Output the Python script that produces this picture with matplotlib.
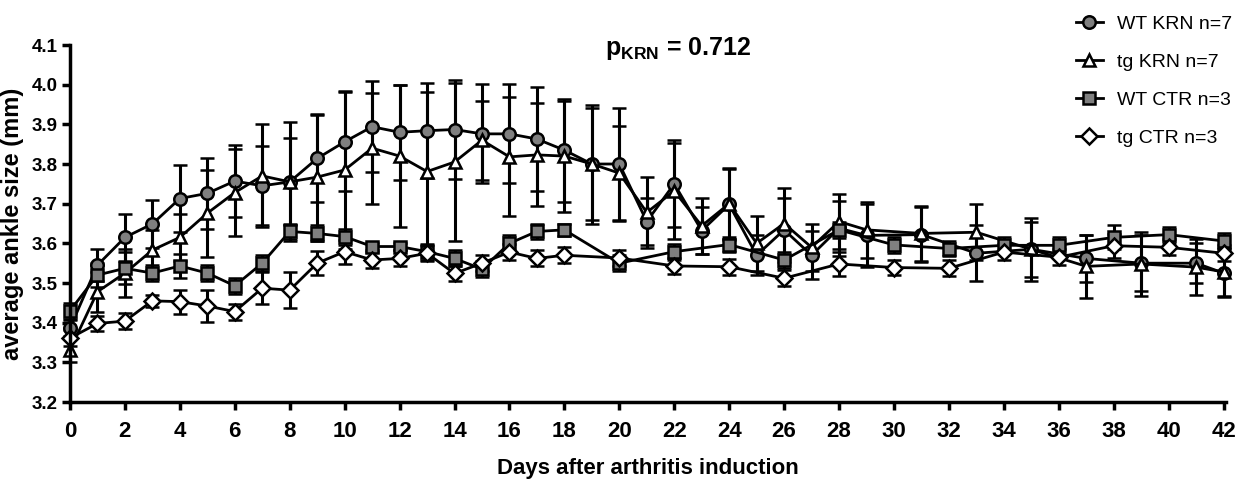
import matplotlib
matplotlib.use("Agg")
import matplotlib.pyplot as plt
from matplotlib.lines import Line2D

plt.rcParams['mathtext.fontset'] = 'custom'
plt.rcParams['mathtext.bf'] = 'Liberation Sans:bold'
plt.rcParams['mathtext.rm'] = 'Liberation Sans'

# ---------------- data ----------------
krn_days = list(range(0, 30)) + [31, 33, 35, 37, 39, 41, 42]
ctr_days = list(range(0, 19)) + [20, 22, 24, 26, 28, 30, 32, 34, 36, 38, 40, 42]

wt_krn = [3.386, 3.545, 3.615, 3.649, 3.713, 3.726, 3.757, 3.745, 3.755, 3.814,
          3.856, 3.894, 3.880, 3.884, 3.887, 3.876, 3.876, 3.863, 3.835, 3.800,
          3.800, 3.655, 3.750, 3.632, 3.698, 3.570, 3.634, 3.570, 3.638, 3.620,
          3.622, 3.575, 3.585, 3.562, 3.550, 3.550, 3.525]
wt_krn_err = [0.02, 0.04, 0.06, 0.06, 0.085, 0.09, 0.09, 0.10, 0.15, 0.11,
              0.125, 0.115, 0.12, 0.12, 0.125, 0.125, 0.125, 0.13, 0.13, 0.15,
              0.14, 0.06, 0.11, 0.06, 0.09, 0.05, 0.08, 0.06, 0.07, 0.08,
              0.07, 0.07, 0.07, 0.06, 0.07, 0.05, 0.06]

tg_krn = [3.331, 3.478, 3.525, 3.583, 3.615, 3.676, 3.728, 3.770, 3.755, 3.767,
          3.785, 3.840, 3.820, 3.781, 3.805, 3.860, 3.818, 3.823, 3.820, 3.800,
          3.777, 3.678, 3.732, 3.644, 3.700, 3.600, 3.650, 3.590, 3.655, 3.634,
          3.625, 3.628, 3.585, 3.542, 3.548, 3.540, 3.528]
tg_krn_err = [0.03, 0.05, 0.06, 0.05, 0.06, 0.11, 0.11, 0.13, 0.11, 0.16,
              0.20, 0.14, 0.18, 0.20, 0.20, 0.10, 0.15, 0.13, 0.14, 0.14,
              0.12, 0.09, 0.12, 0.07, 0.09, 0.07, 0.09, 0.06, 0.07, 0.07,
              0.07, 0.07, 0.08, 0.08, 0.08, 0.07, 0.06]

wt_ctr = [3.430, 3.520, 3.537, 3.525, 3.543, 3.525, 3.493, 3.550, 3.630, 3.625,
          3.617, 3.592, 3.592, 3.579, 3.562, 3.535, 3.600, 3.630, 3.634,
          3.550, 3.579, 3.597, 3.558, 3.634, 3.596, 3.587, 3.595, 3.595, 3.615,
          3.622, 3.606]
wt_ctr_err = [0.02, 0.03, 0.04, 0.02, 0.03, 0.02, 0.02, 0.02, 0.02, 0.02,
              0.02, 0.01, 0.01, 0.02, 0.02, 0.02, 0.02, 0.02, 0.015,
              0.02, 0.02, 0.02, 0.02, 0.02, 0.02, 0.02, 0.02, 0.02, 0.03,
              0.02, 0.02]

tg_ctr = [3.361, 3.398, 3.404, 3.455, 3.453, 3.442, 3.428, 3.487, 3.482, 3.550,
          3.579, 3.558, 3.562, 3.575, 3.524, 3.550, 3.578, 3.562, 3.570,
          3.563, 3.543, 3.541, 3.512, 3.548, 3.539, 3.537, 3.578, 3.565, 3.594,
          3.590, 3.575]
tg_ctr_err = [0.02, 0.02, 0.02, 0.015, 0.03, 0.04, 0.02, 0.04, 0.045, 0.03,
              0.03, 0.02, 0.02, 0.02, 0.02, 0.02, 0.02, 0.02, 0.02,
              0.02, 0.02, 0.02, 0.02, 0.03, 0.02, 0.02, 0.02, 0.02, 0.03,
              0.02, 0.02]

labels = ['WT KRN n=7', 'tg KRN n=7', 'WT CTR n=3', 'tg CTR n=3']
x_ticks = list(range(0, 43, 2))
y_ticks = [3.2, 3.3, 3.4, 3.5, 3.6, 3.7, 3.8, 3.9, 4.0, 4.1]
# ---------------------------------------

fig = plt.figure(figsize=(12.45, 4.84), dpi=100)
ax = fig.add_axes([0.0562, 0.1694, 0.9288, 0.7376])

series = [
    (krn_days, wt_krn, wt_krn_err, 'o', '#7f7f7f', 9),
    (krn_days, tg_krn, tg_krn_err, '^', 'white', 9),
    (ctr_days, wt_ctr, wt_ctr_err, 's', '#7f7f7f', 9),
    (ctr_days, tg_ctr, tg_ctr_err, 'D', 'white', 8),
]
handles = []
for (xd, yd, ed, mk, fc, ms), lab in zip(series, labels):
    ax.errorbar(xd, yd, yerr=ed, fmt='-', marker=mk, color='black',
                mfc=fc, mec='black', mew=1.8, ms=ms, lw=2.0,
                elinewidth=2.2, capsize=5, capthick=2.2, clip_on=False)
    handles.append(Line2D([], [], color='black', lw=2.0, marker=mk, mfc=fc,
                          mec='black', mew=1.8, ms=ms))

ax.set_xlim(0, 42.1)
ax.set_ylim(3.2, 4.1)
ax.set_xticks(x_ticks)
ax.set_yticks(y_ticks)
ax.set_yticklabels([f'{v:.1f}' for v in y_ticks])
for s in ['top', 'right']:
    ax.spines[s].set_visible(False)
for s in ['left', 'bottom']:
    ax.spines[s].set_linewidth(2.5)
ax.tick_params(axis='both', width=2.5, length=6, direction='out')
ax.tick_params(axis='x', pad=8)
ax.tick_params(axis='y', pad=3)
for lab in ax.get_xticklabels():
    lab.set_fontfamily('Liberation Sans'); lab.set_fontsize(16); lab.set_fontweight('bold')
for lab in ax.get_yticklabels():
    lab.set_fontfamily('Liberation Sans'); lab.set_fontsize(13.5); lab.set_fontweight('bold')

ax.set_xlabel('Days after arthritis induction', fontfamily='Liberation Sans',
              fontsize=16, fontweight='bold', labelpad=11)
ax.set_ylabel('average ankle size (mm)', fontfamily='Liberation Sans',
              fontsize=17, fontweight='bold', labelpad=5)

fig.text(0.545, 0.9, r'$\mathbf{p_{KRN}}$ = 0.712', fontfamily='Liberation Sans',
         fontsize=18, fontweight='bold', ha='center', va='center')

leg = fig.legend(handles=handles, labels=labels, loc='upper left',
                 bbox_to_anchor=(0.85, 1.005), frameon=False,
                 prop={'family': 'Liberation Sans', 'size': 14}, handlelength=1.4,
                 labelspacing=1.05, handletextpad=0.7)

fig.savefig('out.png', dpi=100)
